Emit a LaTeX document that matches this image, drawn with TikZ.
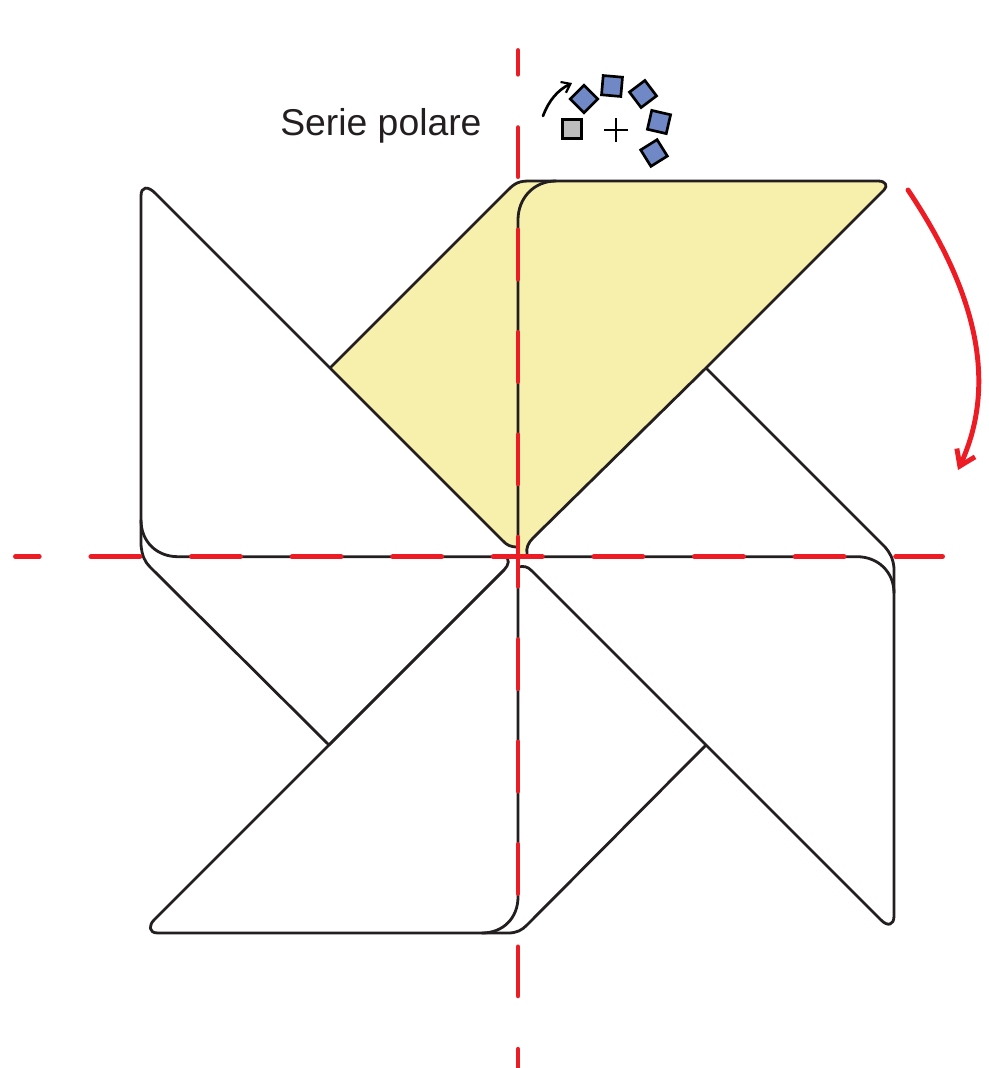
\documentclass[tikz,border=0pt]{standalone}
\usepackage{fontspec}
\setmainfont{Liberation Sans}
\usetikzlibrary{arrows.meta}
\definecolor{bladeyellow}{HTML}{F7F0AC}
\definecolor{tileblue}{HTML}{7089C6}
\definecolor{tilegray}{HTML}{BDBDBD}
\definecolor{axisred}{HTML}{ED1C24}
\definecolor{inkdark}{HTML}{231F20}

\begin{document}
\begin{tikzpicture}[
    x=0.75pt, y=-0.75pt,
    blade/.style={draw=inkdark, line width=2.1pt, line join=round, line cap=round},
    axis_line/.style={draw=axisred, line width=3.7pt, line cap=round},
    tile/.style={draw=black, line width=2pt, minimum size=14.5pt, inner sep=0pt, fill=tileblue},
    turn/.style={draw=axisred, line width=3.7pt, line cap=round, -{Straight Barb[length=11pt,width=15pt,line width=3.7pt]}}
]
\useasboundingbox (0,0) rectangle (989,1068);

% ===== Yellow blade =====
\fill[bladeyellow] (330,368) -- (505,193) .. controls (512,186) and (516,181) .. (528,181)
    -- (878,181) .. controls (886,181) and (888,186) .. (884,190)
    -- (533,538) .. controls (528,543) and (526,548) .. (524,556) -- (518,556) -- (518,547)
    .. controls (510,547) and (507,545) .. (503,541) -- cycle;

% Upper blade
\draw[blade] (330,368) -- (505,193) .. controls (512,186) and (516,181) .. (528,181)
    -- (878,181) .. controls (886,181) and (888,186) .. (884,190)
    -- (706,368) -- (533,538) .. controls (528,543) and (526,548) .. (527,554);
\draw[blade] (330,368) -- (503,541) .. controls (507,545) and (510,547) .. (518,547);
\draw[blade] (518,556) -- (518,220) .. controls (518,198) and (534,181) .. (556,181);

% Left blade
\draw[blade] (330,368) -- (155,193) .. controls (148,186) and (141,186) .. (141,196)
    -- (141,520) .. controls (141,542) and (157,556.7) .. (178,556.7) -- (518,556.7);
\draw[blade] (141,520) -- (141,545) .. controls (142,556) and (145,562) .. (150,567) -- (329,745);

% Lower blade
\draw[blade] (329,745) -- (504,570) .. controls (509,565) and (510,559) .. (505,556);
\draw[blade] (504,570) -- (154,920) .. controls (149,925) and (148,933) .. (158,933)
    -- (482,933) .. controls (503,933) and (518,918) .. (518,897) -- (518,556);
\draw[blade] (482,933) -- (508,933) .. controls (517,933) and (522,930) .. (527,925) -- (706,745);

% Right blade
\draw[blade] (706,745) -- (532,571) .. controls (527,566) and (524,566) .. (518,567);
\draw[blade] (706,745) -- (881,920) .. controls (888,927) and (894,925) .. (894,916)
    -- (894,593) .. controls (894,572) and (878,556.7) .. (857,556.7) -- (518,556.7);
\draw[blade] (894,593) -- (894,568) .. controls (893,558) and (890,553) .. (885,547) -- (706,368);

% ===== Red axes =====
\draw[axis_line, dash pattern=on 36.7pt off 38.75pt, dash phase=18.9pt] (15.5,556.7) -- (942.5,556.7);
\draw[axis_line, dash pattern=on 36.7pt off 40.1pt, dash phase=18.9pt] (518,50.5) -- (518,1068);

% Rotation arrow
\draw[turn] (908,190) .. controls (965,275) and (1003,372) .. (958,470);

% ===== Label and tiles =====
\node[font=\fontsize{28pt}{32pt}\selectfont, text=inkdark, anchor=base west, inner sep=0pt] (title) at (280,135) {Serie polare};

\node[tile, fill=tilegray] (tile0) at (572,129) {};
\node[tile, rotate=45] (tile1) at (584,99) {};
\node[tile, rotate=-5] (tile2) at (612,86) {};
\node[tile, rotate=37] (tile3) at (643,94) {};
\node[tile, rotate=-13] (tile4) at (659,122) {};
\node[tile, rotate=32] (tile5) at (654,153) {};

% Plus sign
\draw[line width=2pt] (604,130) -- (628,130) (616,118) -- (616,142);

\draw[line width=2pt, line cap=round, -{Straight Barb[length=6pt,width=9pt,line width=1.6pt]}] (543,116) .. controls (549,100) and (558,90) .. (572,83);
\end{tikzpicture}
\end{document}
